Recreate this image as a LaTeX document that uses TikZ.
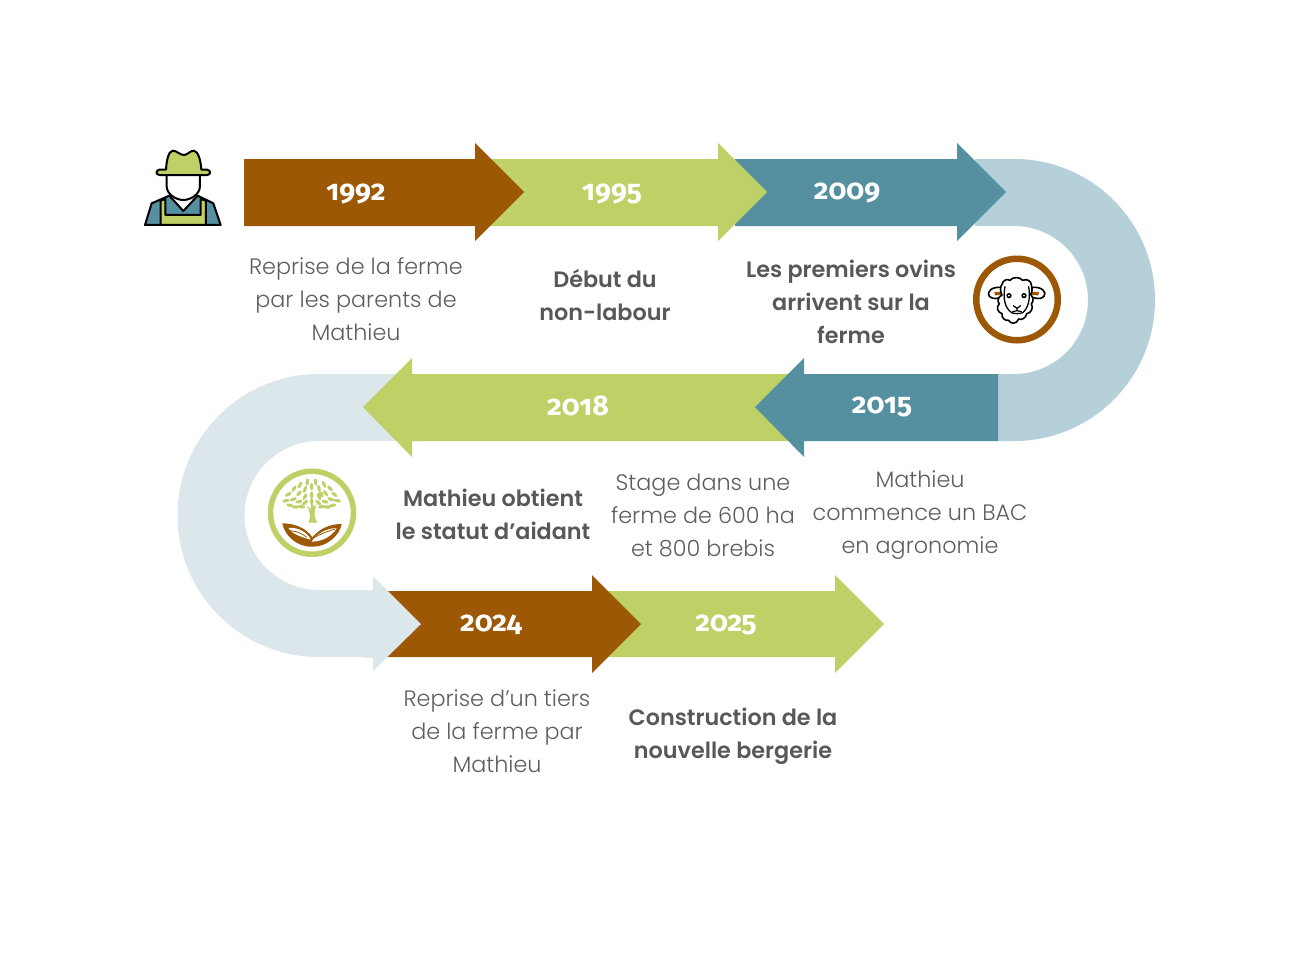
\documentclass[tikz,border=0pt]{standalone}
\usepackage{fontspec}
\setmainfont{Poppins Light}
\newfontfamily\semifont{Poppins SemiBold}
\newfontfamily\yearfont[Numbers=OldStyle]{Fira Sans}
\definecolor{cbrown}{HTML}{9C5805}
\definecolor{cgreen}{HTML}{BFD066}
\definecolor{cteal}{HTML}{5490A0}
\definecolor{clight}{HTML}{B5D0D8}
\definecolor{clighter}{HTML}{DBE7EB}
\definecolor{ctext}{HTML}{5E5E5E}
\definecolor{cbold}{HTML}{585858}
\tikzset{
 x=1pt,y=-1pt,
 yearlabel/.style={text=white,font=\yearfont\fontsize{28.5}{28.5}\selectfont\bfseries,inner sep=0pt},
 plain/.style={text=ctext,font=\fontsize{22.3}{33}\selectfont,align=center,inner sep=0pt},
 strong/.style={text=cbold,font=\semifont\fontsize{22.3}{33}\selectfont,align=center,inner sep=0pt},
 ink/.style={draw=black,line width=2pt,line join=round,line cap=round},
 leaf/.style={fill=cgreen,draw=none},
}
\begin{document}
\begin{tikzpicture}
\useasboundingbox (0,0) rectangle (1300,975);
\fill[white] (0,0) rectangle (1300,975);
% right bend
\fill[clight] (975,159) -- (1014,159) arc[start angle=-90,end angle=90,radius=141] -- (998,441) -- (998,374) -- (1014,374) arc[start angle=90,end angle=-90,radius=74] -- (975,226) -- cycle;
% top row
\fill[cteal] (735,159) -- (957,159) -- (957,143) -- (1006,192) -- (957,241) -- (957,226) -- (735,226) -- cycle;
\fill[cgreen] (490,159) -- (718,159) -- (718,143) -- (767,192) -- (718,241) -- (718,226) -- (490,226) -- cycle;
\fill[cbrown] (244,159) -- (475,159) -- (475,143) -- (524,192) -- (475,241) -- (475,226) -- (244,226) -- cycle;
% bottom row
\fill[cgreen] (605,591) -- (835,591) -- (835,575) -- (884,624) -- (835,673) -- (835,657) -- (605,657) -- cycle;
\fill[cbrown] (362,591) -- (592,591) -- (592,575) -- (641,624) -- (592,673) -- (592,657) -- (362,657) -- cycle;
% left bend
\fill[clighter] (420,374) -- (319,374) arc[start angle=270,end angle=90,radius=141.5] -- (373,657) -- (373,671) -- (421,624) -- (373,576) -- (373,590) -- (319,590) arc[start angle=90,end angle=270,radius=74.5] -- (420,441) -- cycle;
% middle row
\fill[cgreen] (790,374) -- (412,374) -- (412,358) -- (363,407) -- (412,457) -- (412,441) -- (790,441) -- cycle;
\fill[cteal] (998,374) -- (804,374) -- (804,358) -- (755,407) -- (804,457) -- (804,441) -- (998,441) -- cycle;
% years
\node[yearlabel] (y1992) at (356,194) {1992};
\node[yearlabel] (y1995) at (612,194) {1995};
\node[yearlabel] (y2009) at (847,193) {2009};
\node[yearlabel] (y2015) at (882,407) {2015};
\node[yearlabel] (y2018) at (578,406) {2018};
\node[yearlabel] (y2024) at (491,625) {2024};
\node[yearlabel] (y2025) at (726,625) {2025};
% texts
\node[plain] (t1992) at (356,299.5) {Reprise de la ferme\\par les parents de\\Mathieu\hspace{5pt}};
\node[strong] (t1995) at (605,295) {Début du\\non-labour};
\node[strong] (t2009) at (851,302) {Les premiers ovins\\arrivent sur la\\ferme};
\node[plain] (t2015) at (920,515.5) {Mathieu\\commence un BAC\\en agronomie};
\node[plain] (t2017) at (703,515) {Stage dans une\\ferme de 600 ha\\et 800 brebis};
\node[strong] (t2018) at (493,514) {Mathieu obtient\\le statut d’aidant};
\node[plain] (t2024) at (497,731.5) {Reprise d'un tiers\\de la ferme par\\Mathieu};
\node[strong] (t2025) at (733,736) {Construction de la\\nouvelle bergerie};
% farmer
\begin{scope}[shift={(130,135)},x=0.3333pt,y=-0.3333pt]
 \fill[white] (125,185) -- (195,185) -- (160,230) -- cycle;
 \path[ink,fill=cteal] (45,270) -- (65,205) -- (118,182) -- (160,228) -- (203,182) -- (250,205) -- (272,270) -- cycle;
 \path[ink,fill=cgreen] (92,197) -- (106,192) -- (106,240) -- (212,240) -- (212,192) -- (228,197) -- (228,270) -- (92,270) -- cycle;
 \path[ink,fill=white] (110,118) -- (110,155) .. controls (112,180) and (140,195) .. (160,195) .. controls (180,195) and (208,180) .. (210,155) -- (210,118) -- cycle;
 \path[ink,fill=cgreen] (108,104) .. controls (110,75) and (115,50) .. (128,47) .. controls (140,47) and (150,60) .. (162,60) .. controls (172,60) and (180,47) .. (192,47) .. controls (205,50) and (212,75) .. (214,104) -- (232,104) .. controls (243,106) and (243,119) .. (232,120) -- (88,120) .. controls (77,119) and (77,106) .. (88,104) -- cycle;
\end{scope}
% sheep
\node[circle,draw=cbrown,line width=6.5pt,minimum size=81.5pt,inner sep=0pt] (sheepring) at (1017,299.5) {};
\begin{scope}[shift={(960,245)},x=0.3333pt,y=-0.3333pt]
 \path[ink,line width=1.6pt,fill=white] (128,128) .. controls (95,122) and (78,142) .. (88,154) .. controls (98,165) and (115,160) .. (130,155) -- cycle;
 \path[ink,line width=1.6pt,fill=white] (212,128) .. controls (245,122) and (262,142) .. (252,154) .. controls (242,165) and (225,160) .. (210,155) -- cycle;
 \fill[cbrown] (103,141) -- (130,140) -- (130,150) -- (105,151) -- cycle;
 \fill[cbrown] (237,141) -- (210,140) -- (210,150) -- (235,151) -- cycle;
 \path[ink,line width=1.6pt,fill=white] (126,118) .. controls (128,106) and (142,100) .. (150,106) .. controls (158,95) and (180,95) .. (188,106) .. controls (200,100) and (214,108) .. (214,120) .. controls (218,130) and (216,142) .. (212,148) .. controls (222,160) and (220,172) .. (214,176) .. controls (222,190) and (212,205) .. (200,206) .. controls (198,220) and (184,226) .. (176,222) .. controls (170,238) and (152,238) .. (146,226) .. controls (134,228) and (124,218) .. (126,206) .. controls (112,202) and (108,186) .. (118,176) .. controls (110,170) and (114,156) .. (126,150) .. controls (120,140) and (120,124) .. (126,118) -- cycle;
 \path[ink,line width=1.3pt] (135,125) .. controls (128,160) and (135,190) .. (155,203) .. controls (165,207) and (178,207) .. (188,203) .. controls (205,190) and (212,160) .. (206,125);
 \path[ink,line width=1.2pt] (160,182) -- (171,190) -- (182,182) (171,190) -- (171,197) (158,200) -- (171,197) -- (184,200);
 \fill[black] (147,152) circle[radius=8]; \fill[white] (147,152) circle[radius=3];
 \fill[black] (192,152) circle[radius=8]; \fill[white] (192,152) circle[radius=3];
\end{scope}
% tree
\node[circle,draw=cgreen,line width=5.5pt,minimum size=83pt,inner sep=0pt] (treering) at (312,512.7) {};
\begin{scope}[shift={(255,460)},x=0.3333pt,y=-0.3333pt]
 \foreach \lx/\ly/\la in {157/66/85,182/66/95,207/73/115,135/75/60,117/86/55,100/103/30,93/122/10,105/136/-10,122/141/0,238/103/140,247/122/170,233/136/190,218/141/180,225/85/130,170/80/90,150/88/70,192/85/105,132/100/50,212/100/125,115/118/20,228/118/160,150/110/60,170/105/90,192/110/115,132/125/15,210/125/165,150/128/40,190/128/140,170/125/90,172/143/90,140/140/-10,200/140/190}{
  \fill[cgreen,rotate around={\la:(\lx,\ly)}] (\lx,\ly) ellipse[x radius=11,y radius=5];
 }
 \fill[cgreen] (197,104) circle[radius=9];
 \fill[cgreen] (160,188) .. controls (168,175) and (166,155) .. (155,135) -- (169,150) -- (185,132) .. controls (176,155) and (176,175) .. (188,188) -- cycle;
 \fill[cbrown] (82,190) .. controls (120,190) and (155,205) .. (172,232) .. controls (195,205) and (225,192) .. (260,192) .. controls (255,225) and (215,262) .. (172,260) .. controls (125,262) and (88,225) .. (82,190) -- cycle;
 \fill[white] (100,204) .. controls (130,200) and (160,220) .. (168,240) .. controls (140,230) and (115,225) .. (100,204) -- cycle;
 \fill[white] (245,205) .. controls (215,203) and (180,225) .. (170,245) .. controls (200,245) and (230,230) .. (245,205) -- cycle;
 \draw[cbrown,line width=0.8pt] (105,212) .. controls (125,213) and (145,222) .. (155,232) (240,208) .. controls (215,213) and (185,228) .. (165,240);
\end{scope}
\end{tikzpicture}
\end{document}
